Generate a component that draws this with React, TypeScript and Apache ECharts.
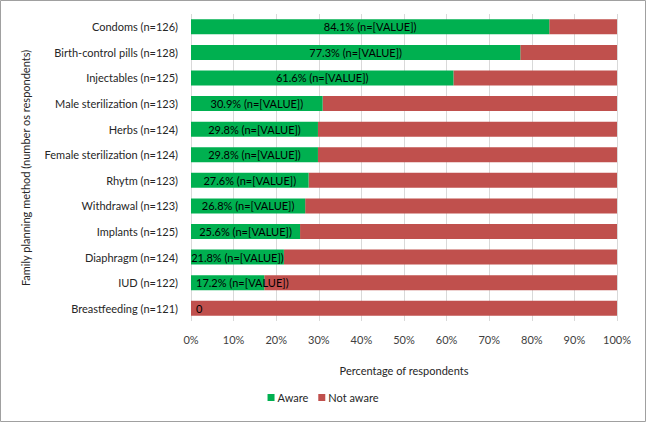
import React, { useEffect, useRef } from "react";
import * as echarts from "echarts";

const categories = [
  "Condoms (n=126)",
  "Birth-control pills (n=128)",
  "Injectables (n=125)",
  "Male sterilization (n=123)",
  "Herbs (n=124)",
  "Female sterilization (n=124)",
  "Rhytm (n=123)",
  "Withdrawal (n=123)",
  "Implants (n=125)",
  "Diaphragm (n=124)",
  "IUD (n=122)",
  "Breastfeeding (n=121)",
];
const aware = [84.1, 77.3, 61.6, 30.9, 29.8, 29.8, 27.6, 26.8, 25.6, 21.8, 17.2, 0];
const notAware = [15.9, 22.7, 38.4, 69.1, 70.2, 70.2, 72.4, 73.2, 74.4, 78.2, 82.8, 100];
const xTicks = [0, 10, 20, 30, 40, 50, 60, 70, 80, 90, 100];

const FONT = "Lato";

export default function App() {
  const ref = useRef<HTMLDivElement>(null);
  useEffect(() => {
    if (!ref.current) return;
    const chart = echarts.init(ref.current, undefined, { renderer: "svg" });
    chart.setOption({
      animation: false,
      backgroundColor: "#fff",
      textStyle: { fontFamily: FONT },
      grid: { left: 191, right: 29, top: 14, bottom: 101, containLabel: false },
      xAxis: {
        type: "value",
        min: xTicks[0],
        max: xTicks[xTicks.length - 1],
        interval: 10,
        axisLine: { show: false },
        axisTick: { show: false },
        splitLine: { show: true, lineStyle: { color: "#D9D9D9", width: 1 } },
        axisLabel: {
          formatter: (v: number) => `${v}%`,
          color: "#404040",
          fontSize: 11,
          fontFamily: FONT,
          margin: 13,
        },
        name: "Percentage of respondents",
        nameLocation: "middle",
        nameGap: 44,
        nameTextStyle: { color: "#262626", fontSize: 11, fontFamily: FONT, verticalAlign: "top" },
      },
      yAxis: {
        type: "category",
        data: categories,
        inverse: true,
        axisLine: { show: false },
        axisTick: { show: false },
        splitLine: { show: false },
        axisLabel: { color: "#262626", fontSize: 11, fontFamily: FONT, margin: 13 },
      },
      legend: {
        data: ["Aware", "Not aware"],
        bottom: 14,
        left: "center",
        itemWidth: 7,
        itemHeight: 7,
        itemGap: 10,
        icon: "rect",
        textStyle: { color: "#262626", fontSize: 11, fontFamily: FONT, padding: [0, 0, 0, -2] },
      },
      graphic: [
        {
          type: "rect",
          shape: { x: 0.5, y: 0.5, width: 645, height: 421 },
          style: { fill: "none", stroke: "#A0A0A0", lineWidth: 1 },
          silent: true,
          z: 100,
        },
        {
          type: "text",
          x: 25,
          y: 168,
          rotation: Math.PI / 2,
          style: {
            text: "Family planning method (number os respondents)",
            fill: "#262626",
            font: `11px ${FONT}`,
            align: "center",
            verticalAlign: "middle",
          },
        },
      ],
      series: [
        {
          name: "Aware",
          type: "bar",
          stack: "total",
          barWidth: 15,
          itemStyle: { color: "#00B050" },
          data: aware.map((v) =>
            v === 0
              ? { value: v, label: { position: "insideLeft", offset: [-4, 0] } }
              : v < 20
              ? { value: v, label: { position: "insideLeft", offset: [-3, 0] } }
              : v
          ),
          label: {
            show: true,
            position: "inside",
            color: "#000",
            fontSize: 11,
            fontFamily: FONT,
            formatter: (p: any) => (p.value === 0 ? "0" : `${p.value.toFixed(1)}% (n=[VALUE])`),
          },
          labelLayout: { hideOverlap: false },
          z: 3,
        },
        {
          name: "Not aware",
          type: "bar",
          stack: "total",
          barWidth: 15,
          itemStyle: { color: "#C0504D" },
          data: notAware,
          z: 2,
        },
      ],
    });
    return () => chart.dispose();
  }, []);
  return (
    <div
      ref={ref}
      style={{ position: "fixed", left: 0, top: 0, width: 646, height: 422 }}
    />
  );
}
